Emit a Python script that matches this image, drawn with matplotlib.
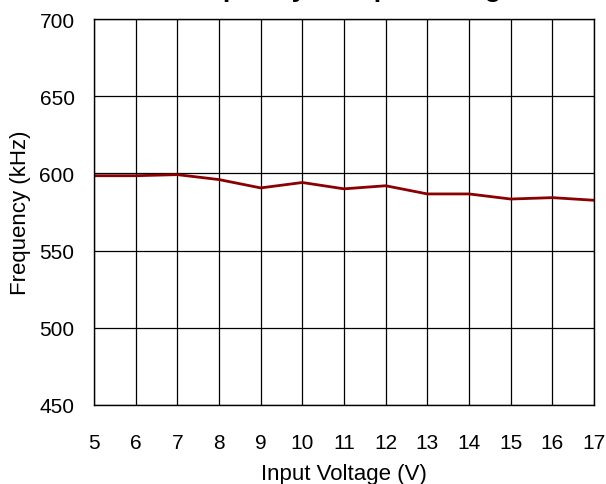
import matplotlib
matplotlib.use("Agg")
from matplotlib import pyplot as plt

# input voltage (V) and switching frequency (kHz)
tensao = [5, 6, 7, 8, 9, 10, 11, 12, 13, 14, 15, 16, 17]
frequencia = [598.5, 598.5, 599.2, 596.0, 590.6, 594.1, 590.0, 592.0, 586.7, 586.7, 583.4, 584.3, 582.6]

plt.rcParams['font.family'] = ['Liberation Sans', 'DejaVu Sans']

fig = plt.figure(figsize=(6.06, 4.85), dpi=100)
ax = fig.add_axes([94 / 606, 1 - 406 / 485, 500 / 606, 386 / 485])

ax.plot(tensao, frequencia, color='#8b0000', linewidth=2.0, solid_joinstyle='round')

ax.set_xlim(5, 17)
ax.set_ylim(450, 700)
ax.set_xticks(range(5, 18))
ax.set_yticks(range(450, 701, 50))
ax.grid(True, color='black', linewidth=0.9)
ax.set_axisbelow(True)
for lado in ax.spines.values():
    lado.set_color('black')
    lado.set_linewidth(1.0)

ax.tick_params(length=0, labelsize=15)
ax.tick_params(axis='x', pad=20)
ax.tick_params(axis='y', pad=14)

ax.set_xlabel("Input Voltage (V)", fontsize=16, labelpad=8)
ax.set_ylabel("Frequency (kHz)", fontsize=16, labelpad=6)

fig.text(0.5675, 1.006, "Frequency vs Input Voltage", ha='center', va='baseline',
         fontsize=19, fontweight='bold')

fig.savefig("out.png", dpi=100)
